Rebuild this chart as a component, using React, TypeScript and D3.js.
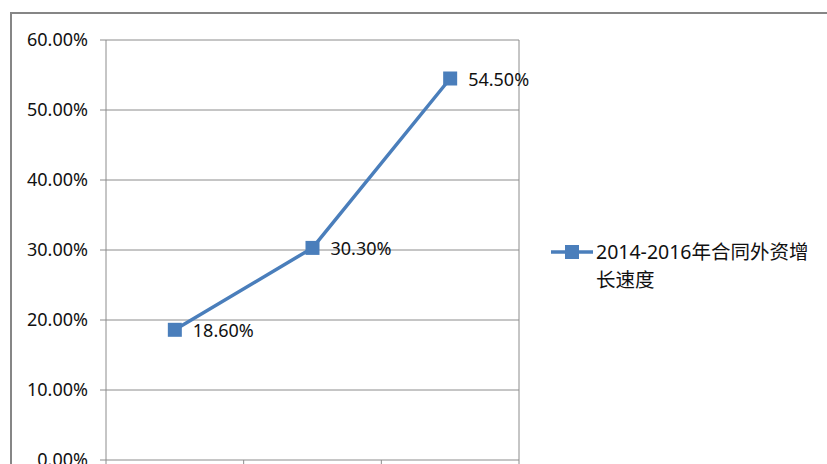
import {useEffect, useRef} from "react";
import * as d3 from "d3";

const categories = ["2014", "2015", "2016"];
const growth = [18.6, 30.3, 54.5];
const yTicks = [0, 10, 20, 30, 40, 50, 60];
const seriesName = ["2014-2016年合同外资增", "长速度"];

const App = () => {
  const ref = useRef<SVGSVGElement>(null);

  useEffect(() => {
    const svg = d3.select(ref.current);
    svg.selectAll("*").remove();

    const font = "'Noto Sans', 'Noto Sans CJK SC', sans-serif";
    const blue = "#4A7EBB";
    const plot = {left: 106, right: 519, top: 40, bottom: 460};

    // cadre du graphique
    svg.append("rect")
      .attr("x", 11).attr("y", 13)
      .attr("width", 830).attr("height", 470)
      .attr("fill", "#fff")
      .attr("stroke", "#868686")
      .attr("stroke-width", 2);

    const x = d3.scaleBand().domain(categories).range([plot.left, plot.right]);
    const y = d3.scaleLinear().domain([0, 60]).range([plot.bottom, plot.top]);

    // quadrillage horizontal + graduations
    svg.append("g").selectAll("line")
      .data(yTicks)
      .join("line")
      .attr("x1", plot.left - 6).attr("x2", plot.right)
      .attr("y1", d => y(d)).attr("y2", d => y(d))
      .attr("stroke", "#8c8c8c").attr("stroke-width", 1);

    svg.append("g").selectAll("text")
      .data(yTicks)
      .join("text")
      .attr("x", 88).attr("y", d => y(d))
      .attr("dy", "0.35em")
      .attr("text-anchor", "end")
      .attr("font-family", font)
      .attr("font-size", 18)
      .attr("fill", "#111")
      .text(d => d.toFixed(2) + "%");

    // axe vertical
    svg.append("line")
      .attr("x1", plot.left).attr("x2", plot.left)
      .attr("y1", plot.top).attr("y2", plot.bottom)
      .attr("stroke", "#8c8c8c");

    // séparateurs de catégories
    const bounds = categories.map(c => x(c)! + x.bandwidth()).concat([plot.left]);
    svg.append("g").selectAll("line")
      .data(bounds)
      .join("line")
      .attr("x1", d => d).attr("x2", d => d)
      .attr("y1", plot.bottom).attr("y2", plot.bottom + 6)
      .attr("stroke", "#8c8c8c");
    svg.append("line")
      .attr("x1", plot.right).attr("x2", plot.right)
      .attr("y1", plot.top).attr("y2", plot.bottom)
      .attr("stroke", "#8c8c8c");

    const cx = (i: number) => x(categories[i])! + x.bandwidth() / 2;

    const line = d3.line<number>()
      .x((_, i) => cx(i))
      .y(d => y(d));

    svg.append("path")
      .datum(growth)
      .attr("fill", "none")
      .attr("stroke", blue)
      .attr("stroke-width", 3.5)
      .attr("stroke-linejoin", "round")
      .attr("d", line);

    svg.append("g").selectAll("rect")
      .data(growth)
      .join("rect")
      .attr("x", (_, i) => cx(i) - 7)
      .attr("y", d => y(d) - 7)
      .attr("width", 14).attr("height", 14)
      .attr("fill", blue);

    svg.append("g").selectAll("text")
      .data(growth)
      .join("text")
      .attr("x", (_, i) => cx(i) + 18)
      .attr("y", d => y(d) + 1)
      .attr("dy", "0.35em")
      .attr("font-family", font)
      .attr("font-size", 18)
      .attr("fill", "#111")
      .text(d => d.toFixed(2) + "%");

    // légende
    const lg = svg.append("g").attr("transform", "translate(551,252)");
    lg.append("line")
      .attr("x1", 0).attr("x2", 42)
      .attr("stroke", blue).attr("stroke-width", 3.5);
    lg.append("rect")
      .attr("x", 14).attr("y", -7)
      .attr("width", 14).attr("height", 14)
      .attr("fill", blue);
    lg.append("text")
      .attr("x", 45)
      .attr("font-family", font)
      .attr("font-size", 19.5)
      .attr("fill", "#111")
      .selectAll("tspan")
      .data(seriesName)
      .join("tspan")
      .attr("x", 45)
      .attr("y", (_, i) => i * 28)
      .attr("dy", "0.35em")
      .text(d => d);
  }, []);

  return (
    <svg ref={ref} width={827} height={464}
      style={{position: "absolute", left: 0, top: 0, background: "#fff"}} />
  );
};

export default App;
